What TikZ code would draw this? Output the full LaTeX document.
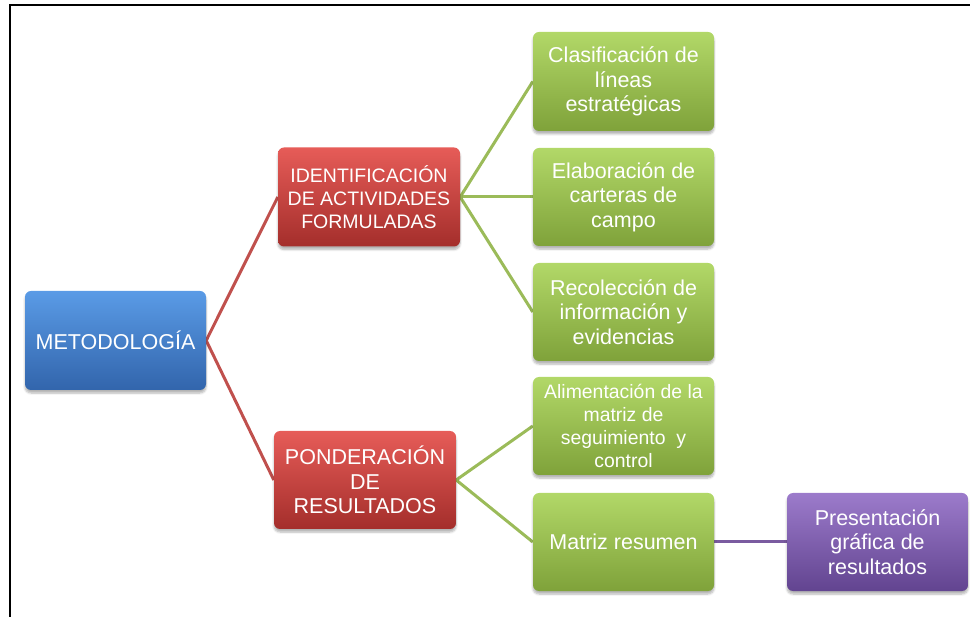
\documentclass[tikz,border=0pt]{standalone}
\usepackage{fontspec}
\setmainfont{Liberation Sans}
\usetikzlibrary{shadows.blur,backgrounds}
\definecolor{bluetop}{HTML}{5A9BE6}
\definecolor{bluemid}{HTML}{3F7CC9}
\definecolor{bluebot}{HTML}{3265AC}
\definecolor{redtop}{HTML}{E65C58}
\definecolor{redmid}{HTML}{C93D3A}
\definecolor{redbot}{HTML}{A42E2B}
\definecolor{greentop}{HTML}{B2D868}
\definecolor{greenmid}{HTML}{9CC248}
\definecolor{greenbot}{HTML}{7FA23A}
\definecolor{purptop}{HTML}{9C7BCB}
\definecolor{purpmid}{HTML}{7D5AAA}
\definecolor{purpbot}{HTML}{624490}
\definecolor{redline}{HTML}{C0504D}
\definecolor{greenline}{HTML}{9BBB59}
\definecolor{purpline}{HTML}{7A5BA0}
\tikzset{
  box/.style={rectangle, rounded corners=6pt, inner sep=0pt, align=center,
    text=white, font=\fontsize{21.5}{24.5}\selectfont,
    blur shadow={shadow xshift=0pt, shadow yshift=-3pt, shadow blur steps=6, shadow opacity=30}},
  bluebox/.style={box, minimum width=181pt, minimum height=99pt,
    top color=bluetop, middle color=bluemid, bottom color=bluebot},
  redbox/.style={box, minimum width=182pt, minimum height=99pt,
    top color=redtop, middle color=redmid, bottom color=redbot},
  greenbox/.style={box, minimum width=181pt, minimum height=98pt,
    top color=greentop, middle color=greenmid, bottom color=greenbot},
  purpbox/.style={box, minimum width=181pt, minimum height=98pt,
    top color=purptop, middle color=purpmid, bottom color=purpbot},
  conn/.style={line width=3pt},
  frame/.style={line width=2pt, black}
}
\begin{document}
\begin{tikzpicture}[x=1pt, y=-1pt]
\useasboundingbox (0,0) rectangle (970,617);
\coordinate (frameTR) at (970,5.5);
\coordinate (frameTL) at (9.5,5.5);
\coordinate (frameBL) at (9.5,617);
\draw[frame] (frameTR) -- (frameTL) -- (frameBL);

\node[bluebox] (met) at (115.5,340.5) {METODOLOGÍA};
\node[redbox, font=\fontsize{19.5}{23}\selectfont] (ident) at (369,197) {IDENTIFICACIÓN\\DE ACTIVIDADES\\FORMULADAS};
\node[redbox, minimum width=182pt, minimum height=98pt] (pond) at (365,480) {PONDERACIÓN\\DE\\RESULTADOS};

\node[greenbox, minimum height=99pt] (clas) at (623.5,81.5) {Clasificación de\\líneas\\estratégicas};
\node[greenbox] (elab) at (623.5,197) {Elaboración de\\carteras de\\campo};
\node[greenbox] (reco) at (623.5,312) {Recolección de\\información y\\evidencias};
\node[greenbox, font=\fontsize{19.4}{22.7}\selectfont] (alim) at (623.5,426) {Alimentación de la\\matriz de\\seguimiento \ y\\control};
\node[greenbox] (matr) at (623.5,542) {Matriz resumen};
\node[purpbox] (pres) at (877.5,542) {Presentación\\gráfica de\\resultados};

\begin{scope}[on background layer]
\draw[conn, redline] (met.east) -- (ident.west);
\draw[conn, redline] (met.east) -- (pond.west);
\draw[conn, greenline] (ident.east) -- (clas.west);
\draw[conn, greenline] (ident.east) -- (elab.west);
\draw[conn, greenline] (ident.east) -- (reco.west);
\draw[conn, greenline] (pond.east) -- (alim.west);
\draw[conn, greenline] (pond.east) -- (matr.west);
\draw[conn, purpline] (matr.east) -- (pres.west);
\end{scope}
\end{tikzpicture}
\end{document}
